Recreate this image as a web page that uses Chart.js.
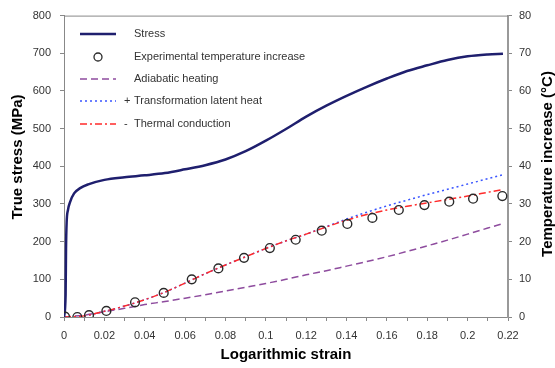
<!DOCTYPE html>
<html>
<head>
<meta charset="utf-8">
<script src="https://cdn.jsdelivr.net/npm/chart.js@4"></script>
<style>
html,body{margin:0;padding:0;background:#fff;}
#wrap{width:555px;height:368px;position:relative;}
</style>
</head>
<body>
<div id="wrap"><canvas id="c"></canvas></div>
<script>
// ---- data ----
const stressStrain = [0,0.0008,0.001,0.0013,0.002,0.003,0.005,0.008,0.012,0.02,0.03,0.04,0.05,0.06,0.07,0.08,0.09,0.1,0.11,0.12,0.13,0.14,0.15,0.16,0.17,0.18,0.19,0.2,0.21,0.2175];
const stressMPa    = [0,60,180,250,285,305,328,342,352,364,371,376,382,392,403,418,440,468,499,532,561,587,611,633,653,668,682,692,697,699];

const markerStrain = [0.0005,0.0066,0.0124,0.021,0.0352,0.0494,0.0633,0.0765,0.0892,0.102,0.1148,0.1277,0.1404,0.1528,0.1659,0.1786,0.1909,0.2027,0.2172];
const markerTemp   = [0.1,0.0,0.5,1.6,3.9,6.4,10.0,12.9,15.7,18.3,20.5,22.9,24.7,26.3,28.4,29.7,30.6,31.4,32.1];

const modelStrain  = [0,0.01,0.02,0.03,0.04,0.05,0.06,0.07,0.08,0.09,0.1,0.11,0.12,0.13,0.14,0.15,0.16,0.17,0.18,0.19,0.2,0.21,0.217];
const adiabatic    = [0,0.5,1.4,2.3,3.3,4.1,5.0,5.9,6.9,7.9,8.9,10.0,11.2,12.3,13.5,14.7,16.0,17.4,18.9,20.4,22.0,23.6,24.7];
const latentHeat   = [0,0.3,1.5,2.9,4.6,6.6,9.0,11.5,13.8,16.0,18.2,20.2,22.0,24.0,26.0,27.8,29.5,31.0,32.5,33.9,35.3,36.7,37.7];
const conduction   = [0,0.3,1.5,2.9,4.6,6.6,9.0,11.5,13.8,16.0,18.2,20.2,22.0,23.9,25.7,27.2,28.4,29.4,30.3,31.2,32.1,33.1,33.8];

const seriesLabels = ["Stress","Experimental temperature increase","Adiabatic heating","Transformation latent heat","Thermal conduction"];
const legendPrefix = ["","","","+","-"];
const xTitle = "Logarithmic strain";
const yTitle = "True stress (MPa)";
const y1Title = "Temperature increase (°C)";
const xMin = 0, xMax = 0.22, xStep = 0.01;
const yMin = 0, yMax = 800, yStep = 100;
const y1Min = 0, y1Max = 80, y1Step = 10;

const pts = (xs, ys) => xs.map((x, i) => ({x: x, y: ys[i]}));

const FONT = "'Liberation Sans', Arial, sans-serif";

const datasets = [
  {label: seriesLabels[0], data: pts(stressStrain, stressMPa), yAxisID: 'y',
   borderColor: '#1f1f6e', borderWidth: 2.5, pointRadius: 0, cubicInterpolationMode: 'monotone', order: 1},
  {label: seriesLabels[1], data: pts(markerStrain, markerTemp), yAxisID: 'y1', showLine: false,
   borderColor: '#2a2a2a', backgroundColor: 'rgba(0,0,0,0)', pointRadius: 4.4, pointBorderWidth: 1.4, pointStyle: 'circle', order: 0},
  {label: seriesLabels[2], data: pts(modelStrain, adiabatic), yAxisID: 'y1',
   borderColor: '#8e4c9e', borderWidth: 1.5, borderDash: [7,4], pointRadius: 0, cubicInterpolationMode: 'monotone', order: 4},
  {label: seriesLabels[3], data: pts(modelStrain, latentHeat), yAxisID: 'y1',
   borderColor: '#3a55ff', borderWidth: 1.5, borderDash: [2,3], pointRadius: 0, cubicInterpolationMode: 'monotone', order: 3},
  {label: seriesLabels[4], data: pts(modelStrain, conduction), yAxisID: 'y1',
   borderColor: '#ff2b2b', borderWidth: 1.5, borderDash: [7,3,2,3], pointRadius: 0, cubicInterpolationMode: 'monotone', order: 2}
];

const decor = {
  id: 'decor',
  afterDraw(chart) {
    const ctx = chart.ctx, a = chart.chartArea;
    ctx.save();
    // top border
    ctx.strokeStyle = '#888'; ctx.lineWidth = 1;
    ctx.beginPath(); ctx.moveTo(a.left, a.top + 0.5); ctx.lineTo(a.right, a.top + 0.5); ctx.stroke();
    // legend
    const ys = [34, 57, 79, 101, 124];
    ctx.font = "11px " + FONT;
    ctx.textBaseline = 'middle';
    chart.data.datasets.forEach((ds, i) => {
      const y = ys[i];
      ctx.save();
      if (i === 1) {
        ctx.strokeStyle = ds.borderColor; ctx.lineWidth = 1.3;
        ctx.beginPath(); ctx.arc(98, y, 4, 0, Math.PI * 2); ctx.stroke();
      } else {
        ctx.strokeStyle = ds.borderColor; ctx.lineWidth = ds.borderWidth;
        ctx.setLineDash(ds.borderDash || []);
        ctx.beginPath(); ctx.moveTo(80, y); ctx.lineTo(116, y); ctx.stroke();
      }
      ctx.restore();
      ctx.fillStyle = '#333';
      ctx.textAlign = 'left';
      ctx.fillText(ds.label, 134, y);
      if (legendPrefix[i]) {
        ctx.fillText(legendPrefix[i], 124, y);
      }
    });
    // axis titles
    ctx.fillStyle = '#000';
    ctx.font = "bold 15px " + FONT;
    ctx.textAlign = 'center';
    ctx.textBaseline = 'alphabetic';
    ctx.fillText(xTitle, 286, 359);
    ctx.save();
    ctx.translate(22, 157); ctx.rotate(-Math.PI / 2);
    ctx.fillText(yTitle, 0, 0);
    ctx.restore();
    ctx.save();
    ctx.translate(552, 164); ctx.rotate(-Math.PI / 2);
    ctx.fillText(y1Title, 0, 0);
    ctx.restore();
    ctx.restore();
  }
};

new Chart(document.getElementById('c'), {
  type: 'line',
  data: {datasets: datasets},
  options: {
    responsive: true, maintainAspectRatio: false, animation: false, devicePixelRatio: 1,
    layout: {padding: {top: 12, left: 0, right: 0, bottom: 0}},
    plugins: {legend: {display: false}, tooltip: {enabled: false}},
    scales: {
      x: {
        type: 'linear', position: 'bottom', min: xMin, max: xMax,
        afterFit: s => { s.height = 51; },
        border: {color: '#888', width: 1},
        grid: {drawOnChartArea: false, drawTicks: true, tickLength: 4, color: '#888'},
        ticks: {stepSize: xStep, autoSkip: false, maxRotation: 0, maxTicksLimit: 40, padding: 8,
          color: '#333', font: {family: FONT, size: 11},
          callback: (v, i) => (i % 2 ? '' : String(+v.toFixed(2)))}
      },
      y: {
        type: 'linear', position: 'left', min: yMin, max: yMax,
        afterFit: s => { s.width = 64; },
        border: {color: '#888', width: 1},
        grid: {drawOnChartArea: false, drawTicks: true, tickLength: 4, color: '#888'},
        ticks: {stepSize: yStep, padding: 9, color: '#333', font: {family: FONT, size: 11}}
      },
      y1: {
        type: 'linear', position: 'right', min: y1Min, max: y1Max,
        afterFit: s => { s.width = 47; },
        border: {color: '#999', width: 2},
        grid: {drawOnChartArea: false, drawTicks: true, tickLength: 4, color: '#888'},
        ticks: {stepSize: y1Step, padding: 7, color: '#333', font: {family: FONT, size: 11}}
      }
    }
  },
  plugins: [decor]
});
</script>
</body>
</html>
